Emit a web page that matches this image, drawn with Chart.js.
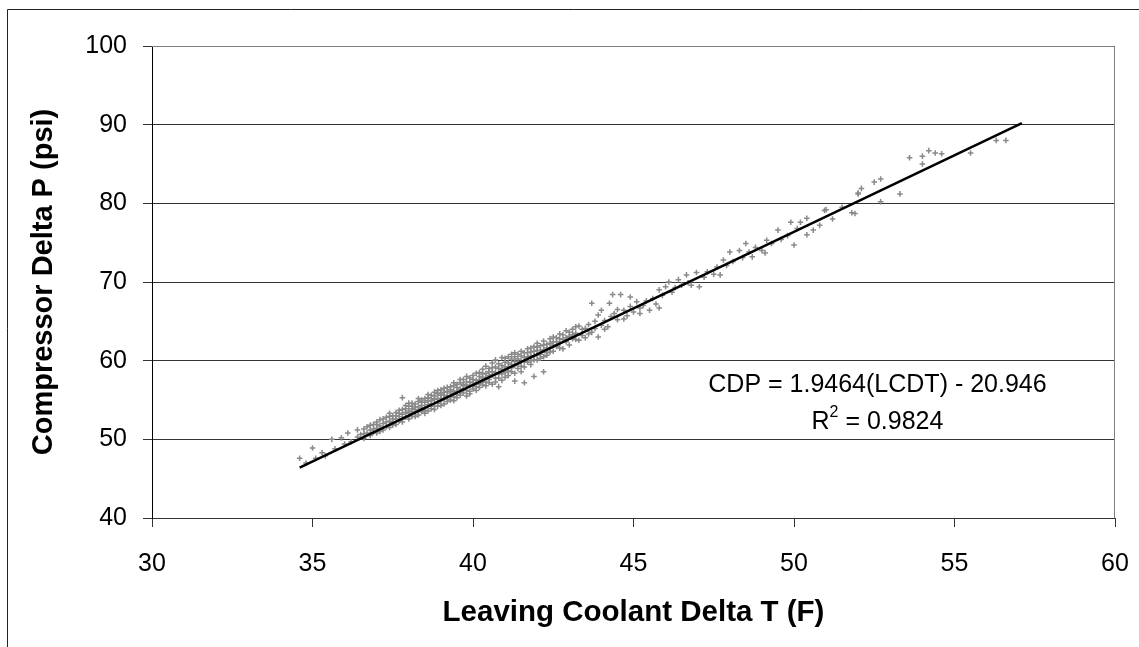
<!DOCTYPE html>
<html>
<head>
<meta charset="utf-8">
<script src="https://cdn.jsdelivr.net/npm/chart.js@4.4.1/dist/chart.umd.min.js"></script>
<style>
  html, body { margin: 0; padding: 0; background: #fff; }
  #wrap { position: relative; width: 1139px; height: 647px; }
</style>
</head>
<body>
<div id="wrap"><canvas id="chartCdp" width="1139" height="647"></canvas></div>
<script>
// ===== data =====
const xTicks = [30, 35, 40, 45, 50, 55, 60];
const yTicks = [40, 50, 60, 70, 80, 90, 100];
const xTitle = "Leaving Coolant Delta T (F)";
const yTitle = "Compressor Delta P (psi)";
const fitText = ["CDP = 1.9464(LCDT) - 20.946", "R", "2", " = 0.9824"];

// trendline ends (as drawn)
const trendLine = [[34.6, 46.4], [57.1, 90.2]];

// [LCDT, CDP] samples
const samples = [
  [34.6,47.6],[34.8,47.0],[35.0,48.9],[35.1,47.6],[35.3,48.3],[35.4,47.9],[35.6,50.0],[35.7,48.8],
  [35.9,50.2],[36.0,49.4],[36.1,50.8],[36.2,49.7],[36.4,51.2],[36.4,50.3],
  [36.5,50.6],[36.6,50.1],[36.6,51.3],[36.7,50.8],[36.7,51.6],[36.8,50.5],[36.8,51.2],[36.9,51.9],
  [36.9,50.9],[37.0,51.4],[37.0,52.2],[37.0,50.8],[37.1,51.7],[37.1,52.5],[37.2,51.2],[37.2,52.0],
  [37.3,52.8],[37.3,51.6],[37.4,52.3],[37.4,51.5],[37.5,53.0],[37.5,52.1],[37.5,51.8],
  [37.6,52.6],[37.6,53.4],[37.6,51.9],[37.7,52.9],[37.7,53.7],[37.7,52.3],[37.8,53.2],[37.8,55.3],
  [37.8,52.6],[37.9,53.9],[37.9,52.8],[37.9,53.4],[38.0,53.0],[38.0,54.2],[38.0,52.6],[38.0,53.6],
  [38.1,53.9],[38.1,52.9],[38.1,54.6],[38.2,53.4],[38.2,54.1],[38.2,52.9],[38.3,54.8],[38.3,53.6],
  [38.3,53.1],[38.4,54.3],[38.4,53.5],[38.4,55.0],[38.5,54.0],[38.5,53.3],[38.5,54.7],
  [38.6,54.4],[38.6,53.6],[38.6,55.3],[38.7,54.9],[38.7,53.9],[38.7,55.6],[38.8,54.2],[38.8,55.1],
  [38.8,53.8],[38.9,55.8],[38.9,54.6],[38.9,55.2],[39.0,54.3],[39.0,55.6],[39.0,54.9],[39.0,56.3],
  [39.1,55.2],[39.1,54.5],[39.1,56.0],[39.2,55.5],[39.2,54.8],[39.2,56.6],[39.3,55.9],[39.3,55.0],
  [39.3,56.3],[39.4,55.4],[39.4,56.8],[39.4,54.9],[39.5,56.1],[39.5,55.3],[39.5,57.0],
  [39.6,56.4],[39.6,55.6],[39.6,57.2],[39.7,55.9],[39.7,56.8],[39.7,57.6],[39.8,56.2],[39.8,57.3],
  [39.8,55.5],[39.9,56.9],[39.9,57.8],[39.9,56.1],[40.0,57.2],[40.0,56.4],[40.0,58.1],[40.1,57.0],
  [40.1,56.2],[40.1,58.4],[40.2,57.5],[40.2,56.6],[40.2,58.0],[40.3,57.8],[40.3,56.9],[40.3,58.9],
  [40.4,57.3],[40.4,58.4],[40.4,56.8],[40.5,58.1],[40.5,57.2],[40.5,59.0],
  [40.6,58.6],[40.6,57.0],[40.6,59.7],[40.7,57.8],[40.7,59.2],[40.7,60.1],[40.8,58.3],[40.8,56.7],
  [40.8,59.6],[40.9,58.9],[40.9,57.5],[40.9,60.4],[41.0,58.5],[41.0,59.8],[41.0,57.9],[41.1,59.2],
  [41.1,60.5],[41.1,58.1],[41.2,59.5],[41.2,58.6],[41.2,60.8],[41.3,59.9],[41.3,58.4],[41.3,61.0],
  [41.3,57.4],[41.4,60.2],[41.4,59.0],[41.5,60.6],[41.5,59.3],[41.5,61.2],[41.6,57.2],
  [41.6,59.9],[41.6,61.0],[41.6,59.2],[41.7,60.5],[41.7,61.5],[41.8,60.0],[41.8,61.1],[41.8,59.5],
  [41.9,61.8],[41.9,60.6],[41.9,58.0],[42.0,61.3],[42.0,60.1],[42.0,62.2],[42.1,60.8],[42.1,61.9],
  [42.2,61.4],[42.2,60.5],[42.2,62.5],[42.2,58.6],[42.3,61.0],[42.3,62.1],[42.4,61.6],[42.4,62.8],
  [42.5,61.2],[42.5,62.4],
  [42.6,62.9],[42.6,61.8],[42.7,63.4],[42.7,62.2],[42.8,62.7],[42.8,61.5],[42.9,63.8],[42.9,62.4],
  [43.0,63.1],[43.0,62.0],[43.1,64.0],[43.1,62.8],[43.2,63.5],[43.3,62.6],[43.3,64.4],[43.4,63.2],
  [43.5,64.1],[43.5,62.9],
  [43.6,64.6],[43.7,63.6],[43.7,67.3],[43.8,64.1],[43.9,63.0],[43.9,65.8],[44.0,64.5],[44.0,66.4],
  [44.1,65.1],[44.2,64.3],[44.25,67.3],[44.3,65.6],[44.35,68.4],[44.4,66.0],[44.5,65.2],[44.6,68.4],
  [44.7,66.4],[44.8,65.7],[44.9,68.1],[44.9,66.9],[45.0,66.2],
  [45.1,67.5],[45.2,66.7],[45.2,66.0],[45.3,67.0],[45.4,67.6],[45.5,66.4],[45.6,67.9],[45.7,67.2],
  [45.8,69.0],[45.8,66.7],[45.9,68.3],
  [46.0,69.4],[46.1,70.0],[46.2,68.7],[46.3,69.3],[46.4,70.3],[46.5,69.6],[46.65,70.9],[46.7,69.9],
  [46.8,69.6],[46.96,71.2],[47.05,69.4],
  [47.2,70.6],[47.3,71.3],[47.5,71.0],[47.6,71.9],[47.7,70.9],[47.8,72.8],[47.9,72.1],[48.0,73.8],
  [48.1,72.6],
  [48.3,74.0],[48.4,73.1],[48.5,74.9],[48.6,73.8],[48.7,73.2],[48.8,74.4],[49.0,74.0],[49.1,73.7],
  [49.15,75.3],
  [49.3,74.9],[49.5,76.6],[49.6,75.4],[49.8,75.9],[49.9,77.6],[50.0,74.7],[50.1,76.8],[50.2,77.6],
  [50.4,78.1],[50.4,76.0],[50.6,76.6],[50.8,77.2],[50.95,79.1],[51.0,79.2],[51.2,78.0],
  [51.5,79.5],[51.8,78.8],[51.9,78.7],[52.0,81.3],[52.0,81.2],[52.1,81.9],[52.5,82.7],[52.7,83.1],
  [52.7,80.2],[53.3,81.2],[53.6,85.8],[54.0,86.0],[54.0,85.0],[54.2,86.7],[54.4,86.4],[54.6,86.3],
  [55.5,86.4],[56.3,88.0],[56.6,88.0],
  // denser core
  [36.6,50.7],[36.8,51.8],[36.9,51.3],[37.0,51.9],[37.1,51.0],[37.2,52.6],[37.3,52.2],[37.4,52.9],
  [37.4,53.3],[37.5,52.6],[37.6,53.0],[37.7,53.3],[37.8,53.8],[37.8,52.2],[37.9,54.3],[38.0,53.3],
  [38.0,54.6],[38.1,53.5],[38.1,54.2],[38.2,53.8],[38.2,54.5],[38.3,54.1],[38.3,55.2],[38.4,53.9],
  [38.4,54.7],[38.5,55.2],[38.5,53.7],[38.6,54.9],[38.6,55.7],[38.7,54.5],[38.7,55.2],[38.8,55.5],
  [38.8,56.0],[38.9,54.2],[38.9,56.2],[39.0,55.2],[39.0,55.9],[39.1,55.6],[39.1,56.5],[39.2,55.1],
  [39.2,56.1],[39.3,56.7],[39.3,55.4],[39.4,56.1],[39.4,57.2],[39.5,55.7],[39.5,56.6],[39.6,57.6],
  [39.6,56.0],[39.7,56.4],[39.7,57.0],[39.8,56.8],[39.8,58.0],[39.9,57.3],[39.9,55.8],[40.0,56.8],
  [40.0,57.6],[40.1,57.5],[40.1,56.7],[40.2,58.5],[40.2,57.1],[40.3,57.3],[40.3,58.3],[40.4,57.9],
  [40.4,59.3],[40.5,57.6],[40.5,58.6],[40.6,58.2],[40.6,59.1],[40.7,58.5],[40.7,57.3],[40.8,59.0],
  [40.8,57.8],[40.9,59.4],[40.9,58.3],[41.0,59.2],[41.0,60.3],[41.1,58.7],[41.1,59.7],[41.2,59.1],
  [41.2,60.2],[41.3,59.4],[41.3,60.5],[41.4,59.6],[41.4,60.8],[41.5,59.9],[41.5,58.6],[41.6,60.4],
  [41.7,59.8],[41.7,61.0],[41.8,60.6],[41.8,61.6],[41.9,60.1],[41.9,61.2],[42.0,60.7],[42.0,61.7],
  [42.1,61.3],[42.1,60.3],[42.2,62.0],[42.3,61.6],[42.3,60.7],[42.4,62.2],[42.4,61.1],[42.5,62.0],
  [42.5,63.0],[42.6,62.4],[42.7,62.8],[42.7,61.6],[42.8,63.3],[42.9,62.9],[43.0,63.6],[43.1,63.3],
  [43.2,62.7],[43.2,64.3],[43.4,64.0],[43.6,63.4],[43.8,65.0],[44.1,64.0],[44.5,66.5],[44.7,65.3]
];

const FONT = "'Liberation Sans', Arial, sans-serif";

// frame + plot border + fit label
const extras = {
    id: "extras",
    beforeDraw(chart) {
        const ctx = chart.ctx;
        ctx.save();
        ctx.fillStyle = "#fff";
        ctx.fillRect(0, 0, chart.width, chart.height);
        ctx.strokeStyle = "#222";
        ctx.lineWidth = 1;
        ctx.beginPath();
        ctx.moveTo(7.5, chart.height);
        ctx.lineTo(7.5, 9.5);
        ctx.lineTo(chart.width, 9.5);
        ctx.stroke();
        ctx.restore();
    },
    beforeDatasetsDraw(chart) {
        const a = chart.chartArea;
        const ctx = chart.ctx;
        ctx.save();
        ctx.strokeStyle = "#808080";
        ctx.lineWidth = 1;
        ctx.beginPath();
        ctx.moveTo(a.left, a.top + 0.5);
        ctx.lineTo(a.right - 0.5, a.top + 0.5);
        ctx.lineTo(a.right - 0.5, a.bottom);
        ctx.stroke();
        ctx.restore();
    },
    afterDatasetsDraw(chart) {
        const ctx = chart.ctx;
        const sx = chart.scales.x, sy = chart.scales.y;
        const cx = sx.getPixelForValue(52.6);
        ctx.save();
        ctx.fillStyle = "#000";
        ctx.font = "25px " + FONT;
        ctx.textBaseline = "middle";
        ctx.textAlign = "center";
        ctx.fillText(fitText[0], cx, sy.getPixelForValue(56.9));
        // R^2 line
        const y2 = sy.getPixelForValue(52.2);
        const wR = ctx.measureText(fitText[1]).width;
        const wRest = ctx.measureText(fitText[3]).width;
        ctx.font = "16px " + FONT;
        const w2 = ctx.measureText(fitText[2]).width;
        let x0 = cx - (wR + w2 + wRest) / 2;
        ctx.textAlign = "left";
        ctx.font = "25px " + FONT;
        ctx.fillText(fitText[1], x0, y2);
        ctx.font = "16px " + FONT;
        ctx.fillText(fitText[2], x0 + wR, y2 - 9);
        ctx.font = "25px " + FONT;
        ctx.fillText(fitText[3], x0 + wR + w2, y2);
        ctx.restore();
    }
};

new Chart(document.getElementById("chartCdp"), {
    type: "scatter",
    data: {
        datasets: [{
            label: "trend",
            data: trendLine.map(p => ({x: p[0], y: p[1]})),
            showLine: true,
            borderColor: "#000",
            borderWidth: 2.5,
            pointRadius: 0,
            order: 0
        }, {
            label: "samples",
            data: samples.map(p => ({x: p[0], y: p[1]})),
            pointStyle: "cross",
            pointRadius: 2.8,
            borderWidth: 1.5,
            borderColor: "#8a8a8a",
            backgroundColor: "#8a8a8a",
            order: 1
        }]
    },
    options: {
        responsive: false,
        animation: false,
        events: [],
        layout: { padding: { top: 46, right: 24, left: 0, bottom: 0 } },
        plugins: { legend: { display: false }, tooltip: { enabled: false } },
        scales: {
            x: {
                type: "linear",
                min: 30, max: 60,
                afterBuildTicks: s => { s.ticks = xTicks.map(v => ({value: v})); },
                afterFit: s => { s.height = 129; s.paddingLeft = 0; s.paddingRight = 0; },
                grid: { drawOnChartArea: false, drawTicks: true, tickLength: 9, color: "#333" },
                border: { display: true, color: "#333", width: 1 },
                ticks: { color: "#000", font: { family: FONT, size: 25 }, padding: 22, maxRotation: 0 },
                title: { display: true, text: xTitle, color: "#000",
                         font: { family: FONT, size: 29.5, weight: "bold" }, padding: { top: 0, bottom: 16 } }
            },
            y: {
                type: "linear",
                min: 40, max: 100,
                afterBuildTicks: s => { s.ticks = yTicks.map(v => ({value: v})); },
                afterFit: s => { s.width = 152; s.paddingTop = 0; s.paddingBottom = 0; },
                grid: { drawTicks: true, tickLength: 9, color: "#333", lineWidth: 1 },
                border: { display: true, color: "#000", width: 1 },
                ticks: { color: "#000", font: { family: FONT, size: 25 }, padding: 16 },
                title: { display: true, text: yTitle, color: "#000",
                         font: { family: FONT, size: 29, weight: "bold" }, padding: { top: 27, bottom: 0 } }
            }
        }
    },
    plugins: [extras]
});
</script>
</body>
</html>
